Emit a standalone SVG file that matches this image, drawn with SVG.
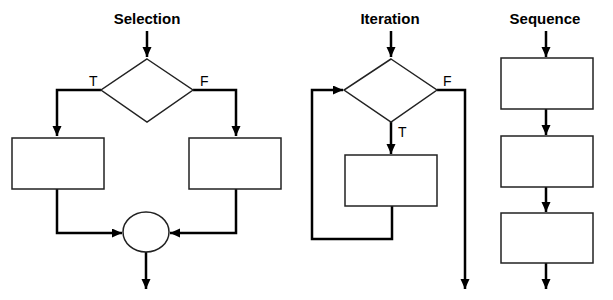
<svg xmlns="http://www.w3.org/2000/svg" width="613" height="300" viewBox="0 0 613 300">
<style>
.title{font-family:"Liberation Sans",Arial,sans-serif;font-weight:bold;font-size:15px;fill:#000;text-anchor:middle}
.lbl{font-family:"Liberation Sans",Arial,sans-serif;font-size:14px;fill:#000}
.shape{fill:#fff;stroke:#222;stroke-width:1.5}
.conn{fill:none;stroke:#000;stroke-width:2.5;marker-end:url(#ah)}
.line{fill:none;stroke:#000;stroke-width:2.5}
</style>
<defs>
<marker id="ah" markerUnits="userSpaceOnUse" markerWidth="10" markerHeight="10" refX="10" refY="4.5" orient="auto">
<path d="M0,0 L10,4.5 L0,9 z" fill="#000"/>
</marker>
</defs>
<rect width="613" height="300" fill="#fff"/>
<text class="title" x="147" y="24">Selection</text>
<text class="title" x="390" y="24">Iteration</text>
<text class="title" x="545" y="24">Sequence</text>
<g id="connectors">
<path class="conn" d="M147,31 V57"/>
<path class="conn" d="M101,90 H57 V136"/>
<path class="conn" d="M193,90 H236 V136"/>
<path class="conn" d="M57,189 V233 H122"/>
<path class="conn" d="M236,189 V233 H170"/>
<path class="conn" d="M146,252 V289"/>
<path class="conn" d="M391,31 V57"/>
<path class="conn" d="M437,90 H465 V289"/>
<path class="conn" d="M391,122 V154"/>
<path class="conn" d="M392,206 V239 H312 V90 H343"/>
<path class="conn" d="M546,31 V57"/>
<path class="conn" d="M546,109 V135"/>
<path class="conn" d="M546,187 V212"/>
<path class="conn" d="M546,263 V289"/>
</g>
<g id="sel-decision"><polygon class="shape" points="147,59 193,90 147,122 101,90"/></g>
<text class="lbl" x="89" y="86">T</text>
<text class="lbl" x="200" y="86">F</text>
<g id="sel-true"><rect class="shape" x="12" y="138" width="92" height="51"/></g>
<g id="sel-false"><rect class="shape" x="189" y="138" width="92" height="51"/></g>
<g id="sel-join"><ellipse class="shape" cx="146" cy="232" rx="23" ry="20"/></g>
<g id="it-decision"><polygon class="shape" points="391,59 437,90 391,122 344,90"/></g>
<text class="lbl" x="443" y="86">F</text>
<text class="lbl" x="398" y="137">T</text>
<g id="it-body"><rect class="shape" x="345" y="155" width="92" height="51"/></g>
<g id="seq-1"><rect class="shape" x="501" y="58" width="92" height="51"/></g>
<g id="seq-2"><rect class="shape" x="501" y="136" width="92" height="51"/></g>
<g id="seq-3"><rect class="shape" x="501" y="213" width="92" height="50"/></g>
</svg>
